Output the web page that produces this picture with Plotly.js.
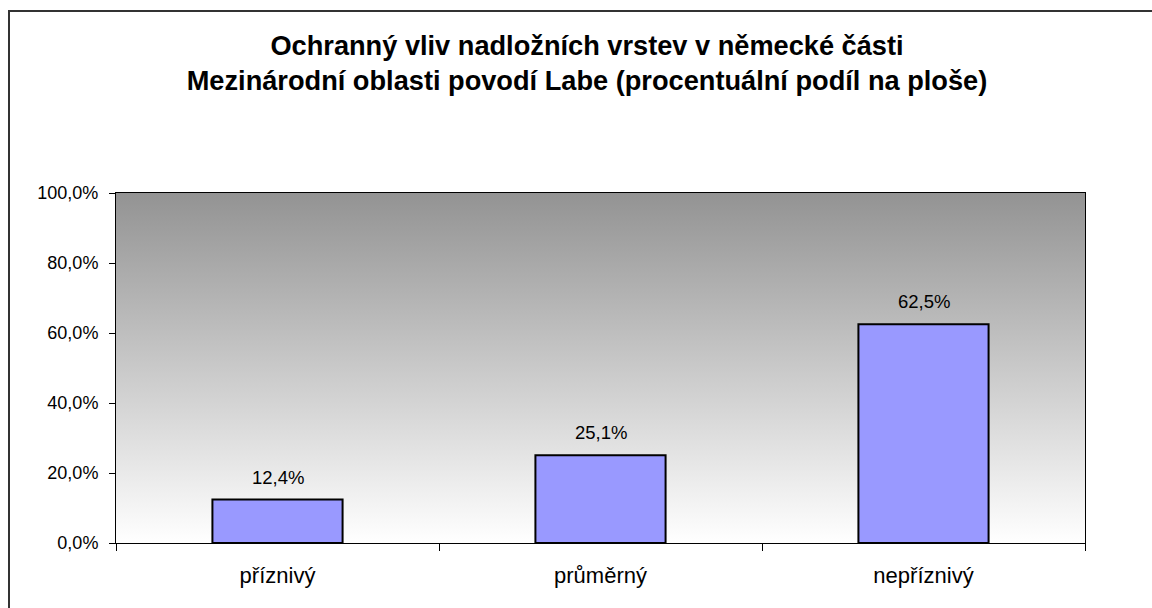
<!DOCTYPE html>
<html>
<head>
<meta charset="utf-8">
<script src="https://cdn.plot.ly/plotly-3.0.1.min.js"></script>
<style>html,body{margin:0;padding:0;background:#fff;}#chart{width:1152px;height:608px;}</style>
</head>
<body>
<div id="chart"></div>
<script>
const categories = ["příznivý", "průměrný", "nepříznivý"];
const values = [12.4, 25.1, 62.5];
const valueLabels = ["12,4%", "25,1%", "62,5%"];
const titleText = "Ochranný vliv nadložních vrstev v německé části<br>Mezinárodní oblasti povodí Labe (procentuální podíl na ploše)";

const W = 1152, H = 608;
const L = 116, R = 67, T = 193, B = 65;
const pw = W - L - R, ph = H - T - B;
const px = v => (v - L) / pw;
const py = v => (H - B - v) / ph;

const grad = 'data:image/svg+xml;charset=utf-8,' + encodeURIComponent(
  '<svg xmlns="http://www.w3.org/2000/svg" width="100" height="100" preserveAspectRatio="none">' +
  '<defs><linearGradient id="g" x1="0" y1="0" x2="0" y2="1">' +
  '<stop offset="0" stop-color="#939393"/><stop offset="1" stop-color="#ffffff"/></linearGradient></defs>' +
  '<rect width="100" height="100" fill="url(#g)"/></svg>');

const FONT = 'Liberation Sans, Arial, sans-serif';

const trace = {
  type: 'bar',
  x: categories,
  y: values,
  marker: {color: '#9999ff', line: {color: '#000000', width: 2}},
  hoverinfo: 'skip'
};

const annotations = categories.map((c, i) => ({
  x: c, y: values[i], text: valueLabels[i], showarrow: false,
  xref: 'x', yref: 'y', yanchor: 'bottom', yshift: 10,
  font: {family: FONT, size: 18.5, color: '#000'}
}));

const layout = {
  width: W, height: H,
  margin: {l: L, r: R, t: T, b: B, pad: 0},
  paper_bgcolor: '#ffffff',
  plot_bgcolor: 'rgba(0,0,0,0)',
  separators: ', ',
  showlegend: false,
  bargap: 0.597,
  font: {family: FONT, color: '#000'},
  title: {
    text: titleText,
    font: {family: FONT, size: 27.2, color: '#000', weight: 'bold'},
    xref: 'container', x: 587 / W, xanchor: 'center',
    yref: 'container', y: 1 - 55 / H, yanchor: 'middle'
  },
  xaxis: {
    type: 'category',
    showline: true, linecolor: '#000', linewidth: 1, mirror: true,
    ticks: 'outside', tickson: 'boundaries', ticklen: 7, tickcolor: '#000', tickwidth: 1,
    ticklabelstandoff: 13,
    tickfont: {family: FONT, size: 22, color: '#000'},
    showgrid: false, zeroline: false, fixedrange: true
  },
  yaxis: {
    range: [0, 100], dtick: 20, tickformat: '.1f', ticksuffix: '%',
    showline: true, linecolor: '#000', linewidth: 1, mirror: true,
    ticks: 'outside', ticklen: 6, tickcolor: '#000', tickwidth: 1,
    ticklabelstandoff: 7,
    tickfont: {family: FONT, size: 18, color: '#000'},
    showgrid: false, zeroline: false, fixedrange: true
  },
  images: [{
    source: grad, xref: 'paper', yref: 'paper', x: 0, y: 1, sizex: 1, sizey: 1,
    xanchor: 'left', yanchor: 'top', sizing: 'stretch', layer: 'below'
  }],
  shapes: [
    {type: 'line', xref: 'paper', yref: 'paper', x0: px(9), x1: px(9), y0: py(10), y1: py(700), line: {color: '#333', width: 2}},
    {type: 'line', xref: 'paper', yref: 'paper', x0: px(8), x1: px(1300), y0: py(11), y1: py(11), line: {color: '#333', width: 2}}
  ],
  annotations: annotations
};

Plotly.newPlot('chart', [trace], layout, {displayModeBar: false, staticPlot: true});
</script>
</body>
</html>
